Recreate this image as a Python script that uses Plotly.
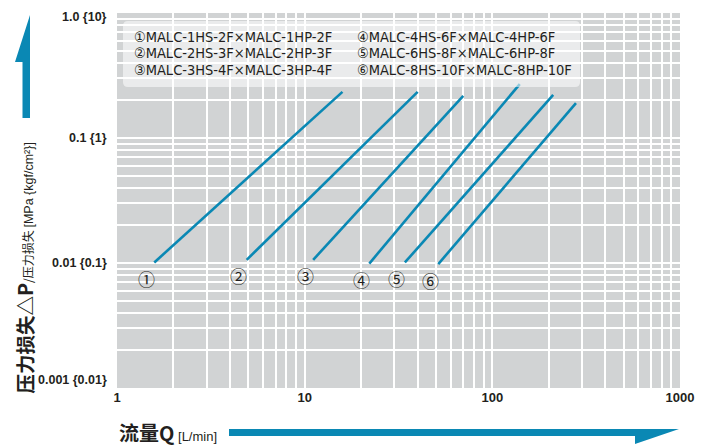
import math
import plotly.graph_objects as go

# ---------------- data ----------------
series_marks = ["①", "②", "③", "④", "⑤", "⑥"]
series_names = [
    "MALC-1HS-2F×MALC-1HP-2F",
    "MALC-2HS-3F×MALC-2HP-3F",
    "MALC-3HS-4F×MALC-3HP-4F",
    "MALC-4HS-6F×MALC-4HP-6F",
    "MALC-6HS-8F×MALC-6HP-8F",
    "MALC-8HS-10F×MALC-8HP-10F",
]
q_start = [1.58, 4.91, 11.1, 22.1, 34.2, 51.5]          # L/min
p_start = [0.0101, 0.0106, 0.0106, 0.0099, 0.0101, 0.0098]  # MPa
q_end = [15.9, 40.0, 70.0, 140.0, 211.0, 279.0]
p_end = [0.234, 0.234, 0.217, 0.270, 0.221, 0.190]

x_tick_values = [1, 10, 100, 1000]
x_tick_labels = ["1", "10", "100", "1000"]
y_tick_values = [1.0, 0.1, 0.01, 0.001]
y_tick_labels = ["1.0 {10}", "0.1 {1}", "0.01 {0.1}", "0.001 {0.01}"]

# ---------------- styling ----------------
W, H = 707, 446
L, R, T, B = 117, 27, 13, 58
PW, PH = W - L - R, H - T - B
BLUE = "#0a88b4"
TEXT = "#231f20"
BG = "#d1d3d4"
NARROW = "Liberation Sans Narrow, Arial Narrow, DejaVu Sans Condensed, Liberation Sans, sans-serif"
SANS = "Liberation Sans, Arial, sans-serif"
CJK = "Noto Sans CJK SC, Noto Sans CJK JP, sans-serif"


def pp(x, y):
    """pixel -> paper coordinates"""
    return (x - L) / PW, (H - B - y) / PH


fig = go.Figure()
for qs, ps, qe, pe, mk in zip(q_start, p_start, q_end, p_end, series_marks):
    fig.add_trace(go.Scatter(x=[qs, qe], y=[ps, pe], mode="lines",
                             line=dict(color=BLUE, width=2.6),
                             showlegend=False, hoverinfo="skip"))

annotations = []
# circled numbers at the start of each line
for qs, ps, mk in zip(q_start, p_start, series_marks):
    annotations.append(dict(x=math.log10(qs), y=math.log10(ps), xref="x", yref="y",
                            text=mk, showarrow=False, xshift=-8, yshift=-16,
                            font=dict(family=CJK, size=17, color=TEXT)))

# y tick labels
y_shift = {1.0: -4, 0.001: 8}
for v, t in zip(y_tick_values, y_tick_labels):
    annotations.append(dict(x=0, xref="paper", y=math.log10(v), yref="y",
                            text="<b>%s</b>" % t, showarrow=False,
                            xanchor="right", yanchor="middle", xshift=-8,
                            yshift=y_shift.get(v, 0),
                            font=dict(family=SANS, size=12.5, color=TEXT)))

# legend text
rows_y = [37, 53, 70]
cols_x = [132, 355]
for i, (mk, nm) in enumerate(zip(series_marks, series_names)):
    cx = cols_x[i // 3]
    cy = rows_y[i % 3]
    px_, py_ = pp(cx, cy)
    annotations.append(dict(x=px_, y=py_, xref="paper", yref="paper",
                            text=mk + nm, showarrow=False,
                            xanchor="left", yanchor="middle",
                            font=dict(family=NARROW, size=14.5, color=TEXT)))

# axis titles
ax, ay = pp(117, 432)
annotations.append(dict(x=ax, y=ay, xref="paper", yref="paper", showarrow=False,
                        xanchor="left", yanchor="middle",
                        text="<b>流量Q</b><span style='font-size:13px;font-family:Liberation Sans Narrow, Liberation Sans'> [L/min]</span>",
                        font=dict(family=CJK, size=20, color=TEXT)))
ax, ay = pp(24, 396)
annotations.append(dict(x=ax, y=ay, xref="paper", yref="paper", showarrow=False,
                        xanchor="center", yanchor="bottom", textangle=-90,
                        text="<b>压力损失△P</b><span style='font-size:12px'>/压力损失 </span>"
                             "<span style='font-size:12.5px;font-family:Liberation Sans Narrow, Liberation Sans'>[MPa {kgf/cm²}]</span>",
                        font=dict(family=CJK, size=19.5, color=TEXT)))

shapes = []
# legend box (rounded)
x0, y1 = pp(123, 21)
x1, y0 = pp(580, 87)
rx, ry = 5 / PW, 5 / PH
path = (f"M {x0+rx},{y0} L {x1-rx},{y0} Q {x1},{y0} {x1},{y0+ry} "
        f"L {x1},{y1-ry} Q {x1},{y1} {x1-rx},{y1} L {x0+rx},{y1} "
        f"Q {x0},{y1} {x0},{y1-ry} L {x0},{y0+ry} Q {x0},{y0} {x0+rx},{y0} Z")
shapes.append(dict(type="path", xref="paper", yref="paper", path=path,
                   fillcolor="rgba(255,255,255,0.55)", line=dict(width=0), layer="above"))


def poly(points):
    pts = [pp(x, y) for x, y in points]
    return "M " + " L ".join(f"{a},{b}" for a, b in pts) + " Z"


# vertical arrow (y axis)
shapes.append(dict(type="path", xref="paper", yref="paper",
                   path=poly([(22.5, 118), (22.5, 62), (15, 62), (30, 15), (30, 118)]),
                   fillcolor=BLUE, line=dict(width=0)))
# horizontal arrow (x axis)
shapes.append(dict(type="path", xref="paper", yref="paper",
                   path=poly([(229, 429), (679, 429), (635, 444), (635, 436), (229, 436)]),
                   fillcolor=BLUE, line=dict(width=0)))

grid_vals = [m * 10 ** k for k in range(3) for m in range(1, 10)] + [1000]
grid_vals_y = [m * 10 ** k for k in range(-3, 0) for m in range(1, 10)] + [1]
x_text = []
for v in grid_vals:
    x_text.append("<b>%s</b>" % x_tick_labels[x_tick_values.index(v)] if v in x_tick_values else "")

fig.update_layout(
    width=W, height=H,
    margin=dict(l=L, r=R, t=T, b=B),
    paper_bgcolor="white", plot_bgcolor=BG,
    showlegend=False,
    annotations=annotations,
    shapes=shapes,
    xaxis=dict(type="log", range=[0, 3], tickmode="array", tickvals=grid_vals,
               ticktext=x_text, showgrid=True, gridcolor="white", gridwidth=1.6,
               ticks="", showline=False, zeroline=False,
               tickfont=dict(family=SANS, size=13, color=TEXT)),
    yaxis=dict(type="log", range=[-3, 0], tickmode="array", tickvals=grid_vals_y,
               showticklabels=False, showgrid=True, gridcolor="white", gridwidth=1.6,
               ticks="", showline=False, zeroline=False),
)

fig.write_html("out.html", config={"displayModeBar": False},
               post_script="document.body.style.margin='0';document.body.style.padding='0';")
